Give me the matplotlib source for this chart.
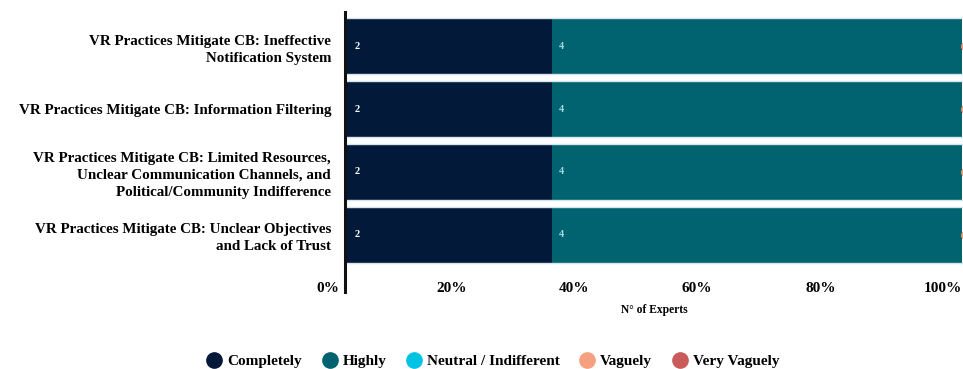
import matplotlib.pyplot as plt
import matplotlib.transforms as mtransforms
import numpy as np
from matplotlib.lines import Line2D

plt.rcParams["font.family"] = ["Liberation Serif", "DejaVu Serif"]
plt.rcParams["font.weight"] = "bold"

STATEMENTS = [
    "VR Practices Mitigate CB: Ineffective\nNotification System",
    "VR Practices Mitigate CB: Information Filtering",
    "VR Practices Mitigate CB: Limited Resources,\nUnclear Communication Channels, and\nPolitical/Community Indifference",
    "VR Practices Mitigate CB: Unclear Objectives\nand Lack of Trust",
]
LEVELS = ["Completely", "Highly", "Neutral / Indifferent", "Vaguely", "Very Vaguely"]
COMPLETELY = [2, 2, 2, 2]
HIGHLY = [4, 4, 4, 4]
NEUTRAL = [0, 0, 0, 0]
VAGUELY = [0, 0, 0, 0]
VERY_VAGUELY = [0, 0, 0, 0]
PCT_TICKS = [0, 20, 40, 60, 80, 100]

COLORS = ["#02193a", "#00636f", "#00c3e3", "#f5a07f", "#c95c5a"]
LABEL_COLORS = ["white", "#9fdbe3", "white", "black", "white"]

series = [COMPLETELY, HIGHLY, NEUTRAL, VAGUELY, VERY_VAGUELY]
totals = np.sum(series, axis=0)
n_experts = totals.max()

fig = plt.figure(figsize=(9.63, 3.69), dpi=100)
# axes runs past the right edge of the figure on purpose
ax = fig.add_axes([347 / 963, 77 / 369, 660 / 963, 280 / 369])

y = np.arange(len(STATEMENTS))
left = np.zeros(len(STATEMENTS))
for vals, color, lab_color in zip(series, COLORS, LABEL_COLORS):
    vals = np.array(vals, dtype=float)
    ax.barh(y, vals, left=left, height=0.89, color=color, linewidth=0)
    for yi, (v, l) in enumerate(zip(vals, left)):
        if v > 0:
            ax.text(l + 0.07, yi, f"{int(v)}", color=lab_color,
                    fontsize=7.5, fontweight="bold", va="center", ha="left")
    left += vals

# thin light rims on the top and bottom of each row
for yi in y:
    for edge in (yi - 0.445, yi + 0.445):
        ax.axhline(edge, color="#d5e3ea", linewidth=1.0, zorder=3)

# markers for the empty categories after the last segment
offset = mtransforms.ScaledTranslation(3 / 72, 0, fig.dpi_scale_trans)
ax.scatter(totals, y, s=45, color=COLORS[3], zorder=5, clip_on=False,
           transform=ax.transData + offset)

ax.set_xlim(0, n_experts * 660 / 615)
ax.set_ylim(3.905, -0.54)

for s in ["top", "right", "bottom"]:
    ax.spines[s].set_visible(False)
ax.spines["left"].set_linewidth(2.2)
ax.spines["left"].set_color("#111111")
ax.spines["left"].set_position(("outward", 1.5))

ax.set_yticks(y)
ax.set_yticklabels(STATEMENTS, fontsize=10.8, fontweight="bold",
                   linespacing=1.4)
ax.tick_params(axis="y", length=0, pad=10)

ax.set_xticks([p / 100 * n_experts for p in PCT_TICKS])
ax.set_xticklabels([f"{p}%" for p in PCT_TICKS], fontsize=11,
                   fontweight="bold")
ax.tick_params(axis="x", length=0, pad=-7)
shift = mtransforms.ScaledTranslation(-13.5 / 72, 0, fig.dpi_scale_trans)
for lbl in ax.get_xticklabels():
    lbl.set_transform(lbl.get_transform() + shift)

fig.text(654 / 963, 1 - 310 / 369, "N° of Experts", ha="center", va="center",
         fontsize=8.3, fontweight="bold")

handles = [Line2D([], [], marker="o", linestyle="", markersize=11,
                  markerfacecolor=c, markeredgecolor=c) for c in COLORS]
fig.legend(handles, LEVELS, loc="center", bbox_to_anchor=(493 / 963, 1 - 361 / 369),
           ncol=5, frameon=False, fontsize=11, handletextpad=0.35,
           columnspacing=1.3, handlelength=1.0)

fig.savefig("out.png", dpi=100)
